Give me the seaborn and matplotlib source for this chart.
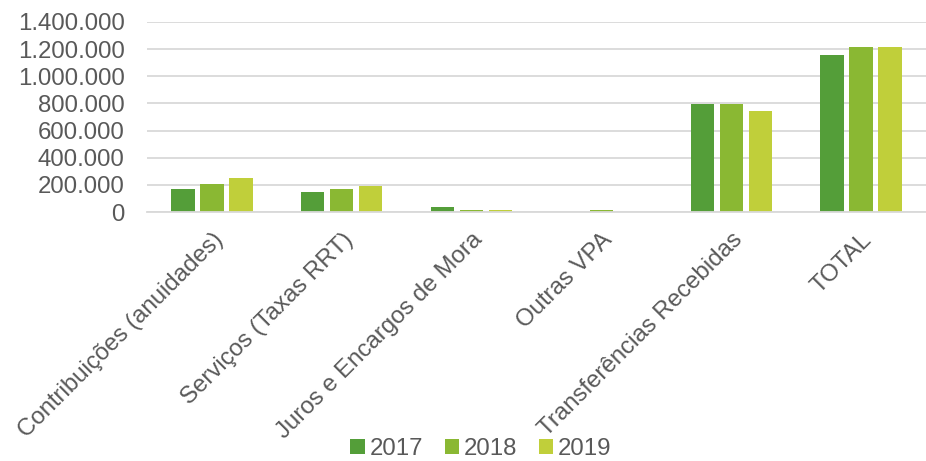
import pandas as pd
import matplotlib
matplotlib.use("Agg")
import matplotlib.pyplot as plt
import matplotlib.ticker as mticker
import seaborn as sns

# Values
categories = ["Contribuições (anuidades)", "Serviços (Taxas RRT)", "Juros e Encargos de Mora",
              "Outras VPA", "Transferências Recebidas", "TOTAL"]
years = ["2017", "2018", "2019"]
v2017 = [167000, 145000, 34000, 0, 798000, 1155000]
v2018 = [204000, 167000, 17000, 15000, 798000, 1214000]
v2019 = [251000, 192000, 17000, 1000, 744000, 1217000]
palette = ["#549E39", "#8AB833", "#C0CF3A"]
yticks = [0, 200000, 400000, 600000, 800000, 1000000, 1200000, 1400000]

df = pd.DataFrame({"Categoria": categories, "2017": v2017, "2018": v2018, "2019": v2019})
df = df.melt(id_vars="Categoria", var_name="Ano", value_name="Valor")

sns.set_style("white")
plt.rcParams["font.family"] = ["Liberation Sans", "DejaVu Sans"]
text_color = "#595959"
fs = 17.3

fig = plt.figure(figsize=(9.26, 4.61), dpi=100)
ax = fig.add_axes([147 / 926, 1 - 212 / 461, 1 - 147 / 926, (212 - 22) / 461])

sns.barplot(data=df, x="Categoria", y="Valor", hue="Ano", hue_order=years,
            palette=palette, width=0.67, gap=0.2, saturation=1, linewidth=0,
            ax=ax, legend=True)

ax.set_ylim(0, 1400000)
ax.set_yticks(yticks)
ax.yaxis.set_major_formatter(mticker.FuncFormatter(lambda v, p: f"{int(v):,}".replace(",", ".")))
ax.set_xlim(-0.5, len(categories) - 0.5)
ax.grid(axis="y", color="#D9D9D9", linewidth=1.3)
ax.set_axisbelow(True)
for s in ["top", "right", "left"]:
    ax.spines[s].set_visible(False)
ax.spines["bottom"].set_color("#D9D9D9")
ax.spines["bottom"].set_linewidth(1.3)
ax.tick_params(axis="both", length=0, labelsize=fs, colors=text_color)
ax.tick_params(axis="y", pad=16)
ax.set_xlabel("")
ax.set_ylabel("")
for lab in ax.get_xticklabels():
    lab.set_rotation(45)
    lab.set_ha("right")
    lab.set_va("top")
    lab.set_rotation_mode("anchor")
    lab.set_color(text_color)
ax.tick_params(axis="x", pad=12)

handles, labels = ax.get_legend_handles_labels()
ax.legend_.remove()
fig.legend(handles, labels, loc="center", bbox_to_anchor=(481 / 926, 1 - 449 / 461), ncol=3,
           frameon=False, fontsize=fs, labelcolor=text_color, handlelength=0.6,
           handleheight=0.6, handletextpad=0.2, columnspacing=0.9,
           borderpad=0, borderaxespad=0)

fig.savefig("out.png", dpi=100)
